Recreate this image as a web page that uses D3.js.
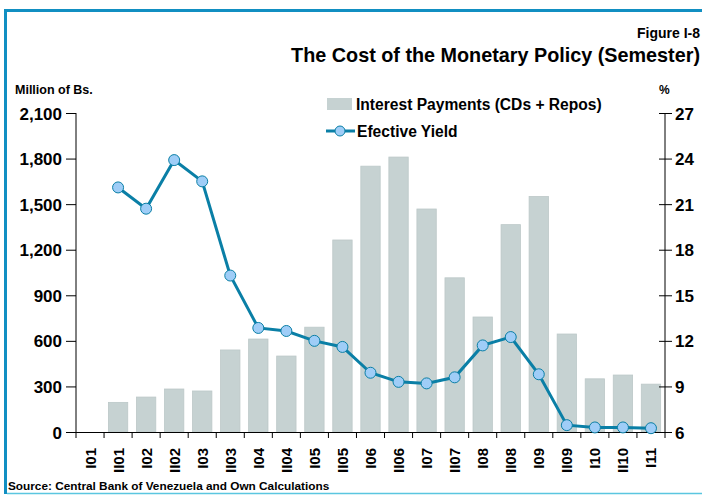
<!DOCTYPE html>
<html>
<head>
<meta charset="utf-8">
<script src="https://cdn.jsdelivr.net/npm/d3@7"></script>
<style>
  body { margin: 0; background: #fff; }
  text { font-family: "Liberation Sans", Arial, sans-serif; font-weight: bold; fill: #000; }
</style>
</head>
<body>
<div id="chart"></div>
<script>
var semesters = ["I01","II01","I02","II02","I03","II03","I04","II04","I05","II05","I06",
  "II06","I07","II07","I08","II08","I09","II09","I10","II10","I11"];
var interestPayments = [null,195,230,283,270,540,612,500,690,1264,1750,
  1810,1468,1015,757,1365,1550,645,350,375,315];
var efectiveYield = [null,22.1,20.7,23.9,22.5,16.3,12.85,12.65,12.0,11.6,9.9,
  9.3,9.2,9.6,11.7,12.25,9.8,6.45,6.3,6.3,6.25];
var leftTicks = [0,300,600,900,1200,1500,1800,2100];
var rightTicks = [6,9,12,15,18,21,24,27];

(function() {
var width = 702, height = 495;
var pLeft = 76, pRight = 665, pTop = 113, pBottom = 432;
var lineColor = "#0a7fa6", dotColor = "#9fcdf7", barColor = "#c6d2d2";

var svg = d3.select("#chart").append("svg")
  .attr("width", width)
  .attr("height", height);

// frame
svg.append("line").attr("x1", 5.5).attr("x2", 5.5).attr("y1", 9).attr("y2", 494)
  .attr("stroke", "#118fc2").attr("stroke-width", 3);
svg.append("line").attr("x1", 4).attr("x2", 702).attr("y1", 10.5).attr("y2", 10.5)
  .attr("stroke", "#118fc2").attr("stroke-width", 3);
svg.append("line").attr("x1", 7).attr("x2", 702).attr("y1", 493.5).attr("y2", 493.5)
  .attr("stroke", "#5ac6e0").attr("stroke-width", 1.5);

// titles
svg.append("text").attr("x", 700).attr("y", 38).attr("text-anchor", "end")
  .style("font-size", "14px").text("Figure I-8");
svg.append("text").attr("x", 700).attr("y", 62).attr("text-anchor", "end")
  .style("font-size", "19.8px").text("The Cost of the Monetary Policy (Semester)");
svg.append("text").attr("x", 15).attr("y", 94)
  .style("font-size", "12.5px").text("Million of Bs.");
svg.append("text").attr("x", 659).attr("y", 94)
  .style("font-size", "12px").text("%");

var x = d3.scaleBand().domain(semesters).range([pLeft, pRight]).paddingInner(0.31).paddingOuter(0.155);
var yL = d3.scaleLinear().domain([0, 2100]).range([pBottom, pTop]);
var yR = d3.scaleLinear().domain([6, 27]).range([pBottom, pTop]);

// bars
svg.selectAll(".bar")
  .data(semesters.map(function(s, i) { return {s: s, v: interestPayments[i]}; })
    .filter(function(d) { return d.v != null; }))
  .enter().append("rect")
  .attr("class", "bar")
  .attr("x", function(d) { return x(d.s); })
  .attr("width", x.bandwidth())
  .attr("y", function(d) { return yL(d.v); })
  .attr("height", function(d) { return pBottom - yL(d.v); })
  .attr("fill", barColor)
  .attr("stroke", "#bcc8c8")
  .attr("stroke-width", 0.8);

// x axis
var xAxis = svg.append("g").attr("transform", "translate(0," + pBottom + ")");
xAxis.append("line").attr("x1", pLeft - 4).attr("x2", pRight + 4).attr("y1", 0.5).attr("y2", 0.5)
  .attr("stroke", "#000");
var step = (pRight - pLeft) / semesters.length;
d3.range(semesters.length + 1).forEach(function(i) {
  xAxis.append("line").attr("x1", pLeft + i * step).attr("x2", pLeft + i * step)
    .attr("y1", 0).attr("y2", 6).attr("stroke", "#000");
});
xAxis.selectAll(".xl").data(semesters).enter().append("text")
  .attr("transform", function(d) {
    return "translate(" + (x(d) + x.bandwidth() / 2 + 5.5) + ",16) rotate(-90)";
  })
  .attr("text-anchor", "end")
  .style("font-size", "15px")
  .text(function(d) { return d; });

// y axes
var leftAxis = svg.append("g").attr("transform", "translate(" + pLeft + ",0)")
  .call(d3.axisLeft(yL).tickValues(leftTicks).tickSize(10).tickPadding(4).tickFormat(d3.format(",")));
leftAxis.select(".domain").attr("d", "M0," + pTop + "V" + pBottom);
leftAxis.selectAll("text").style("font-size", "17px").attr("dy", "0.36em");

var rightAxis = svg.append("g").attr("transform", "translate(" + pRight + ",0)")
  .call(d3.axisRight(yR).tickValues(rightTicks).tickSize(7).tickPadding(3));
rightAxis.select(".domain").attr("d", "M0," + pTop + "V" + pBottom);
rightAxis.selectAll(".tick line").attr("x1", -6).attr("x2", 7);
rightAxis.selectAll("text").style("font-size", "17px").attr("dy", "0.36em");

// yield line
var pts = semesters.map(function(s, i) { return {s: s, v: efectiveYield[i]}; })
  .filter(function(d) { return d.v != null; });
var line = d3.line()
  .x(function(d) { return x(d.s) + x.bandwidth() / 2; })
  .y(function(d) { return yR(d.v); });
svg.append("path").datum(pts).attr("d", line)
  .attr("fill", "none").attr("stroke", lineColor).attr("stroke-width", 3);
svg.selectAll(".dot").data(pts).enter().append("circle")
  .attr("class", "dot")
  .attr("cx", function(d) { return x(d.s) + x.bandwidth() / 2; })
  .attr("cy", function(d) { return yR(d.v); })
  .attr("r", 5.5)
  .attr("fill", dotColor)
  .attr("stroke", lineColor).attr("stroke-width", 1);

// legend
svg.append("rect").attr("x", 327).attr("y", 98).attr("width", 25).attr("height", 12)
  .attr("fill", barColor);
svg.append("text").attr("x", 356).attr("y", 110).style("font-size", "15.6px")
  .text("Interest Payments (CDs + Repos)");
svg.append("line").attr("x1", 326).attr("x2", 355).attr("y1", 131).attr("y2", 131)
  .attr("stroke", lineColor).attr("stroke-width", 3);
svg.append("circle").attr("cx", 340).attr("cy", 131).attr("r", 5)
  .attr("fill", dotColor).attr("stroke", lineColor).attr("stroke-width", 1);
svg.append("text").attr("x", 357).attr("y", 137).style("font-size", "15.6px")
  .text("Efective Yield");

// source
svg.append("text").attr("x", 8).attr("y", 490).style("font-size", "11.8px")
  .text("Source: Central Bank of Venezuela and Own Calculations");
})();
</script>
</body>
</html>
